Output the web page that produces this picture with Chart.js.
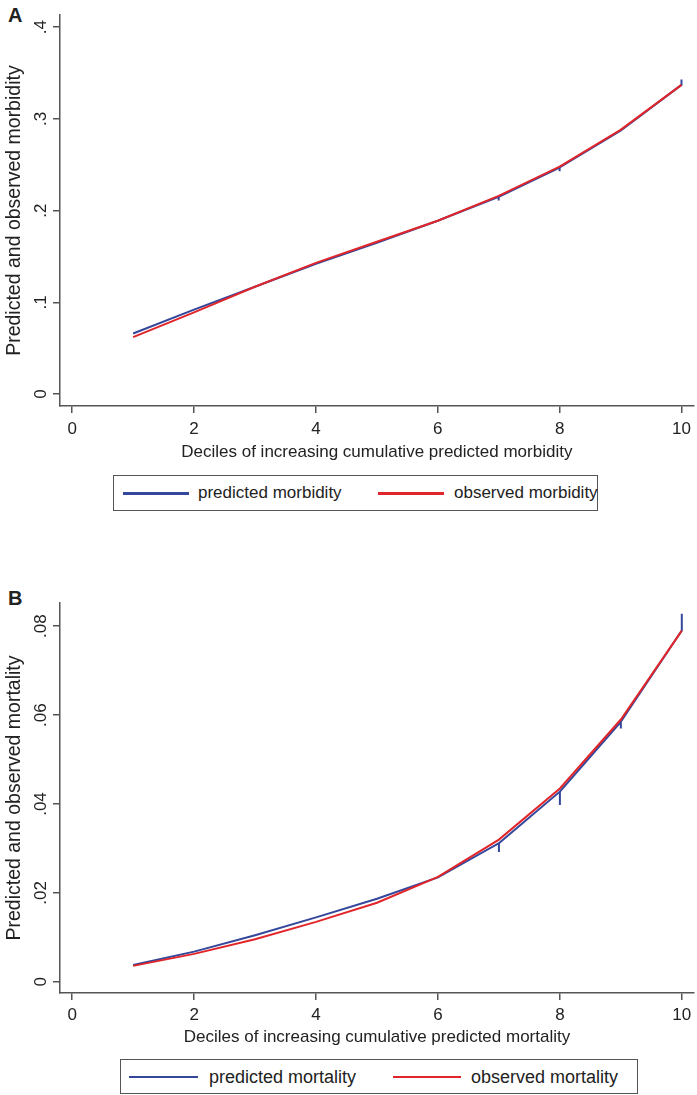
<!DOCTYPE html>
<html>
<head>
<meta charset="utf-8">
<script src="https://cdn.jsdelivr.net/npm/chart.js@4/dist/chart.umd.min.js"></script>
<style>
  body { margin: 0; background: #fff; }
  #page { position: relative; width: 697px; height: 1095px; background: #fff; font-family: "Liberation Sans", Arial, sans-serif; color: #222; }
  canvas { position: absolute; left: 0; }
  .panel { position: absolute; left: 8px; font-weight: bold; font-size: 20px; }
  .legend { position: absolute; border: 1.5px solid #555; box-sizing: border-box; background: #fff; }
  .legend .ln { position: absolute; height: 2.5px; top: 50%; margin-top: -1px; }
  .legend .tx { position: absolute; top: 50%; transform: translateY(-50%); white-space: nowrap; }
</style>
</head>
<body>
<div id="page">
  <div class="panel" style="top:4px">A</div>
  <canvas id="morbChart" width="697" height="470" style="top:0"></canvas>
  <div class="legend" style="left:113px; top:475px; width:485px; height:36px; font-size:17px">
    <div class="ln" style="left:9px; width:66px; background:#34479a"></div>
    <div class="tx" style="left:84px">predicted morbidity</div>
    <div class="ln" style="left:264px; width:66px; background:#e0262b"></div>
    <div class="tx" style="left:340px">observed morbidity</div>
  </div>

  <div class="panel" style="top:587px">B</div>
  <canvas id="mortChart" width="697" height="475" style="top:585px"></canvas>
  <div class="legend" style="left:120px; top:1059px; width:518px; height:35px; font-size:18px">
    <div class="ln" style="left:8px; width:69px; background:#34479a"></div>
    <div class="tx" style="left:88px">predicted mortality</div>
    <div class="ln" style="left:272px; width:68px; background:#e0262b"></div>
    <div class="tx" style="left:350px">observed mortality</div>
  </div>
</div>

<script>
// deciles on the x axis
const xTicks = [0, 2, 4, 6, 8, 10];
const deciles = [1, 2, 3, 4, 5, 6, 7, 8, 9, 10];

// morbidity (panel A); the predicted line dips briefly at a few deciles
const morbPredX = [1, 2, 3, 4, 5, 6, 7, 7, 7, 8, 8, 8, 9, 10, 10];
const morbPred = [0.066, 0.092, 0.117, 0.142, 0.165, 0.189, 0.215, 0.211, 0.215, 0.247, 0.243, 0.247, 0.287, 0.337, 0.343];
const morbObs = [0.062, 0.089, 0.117, 0.143, 0.166, 0.189, 0.216, 0.248, 0.288, 0.337];
const morbTicks = [0, 0.1, 0.2, 0.3, 0.4];

// mortality (panel B)
const mortPredX = [1, 2, 3, 4, 5, 6, 7, 7, 7, 8, 8, 8, 9, 9, 9, 10, 10];
const mortPred = [0.0038, 0.0068, 0.0105, 0.0145, 0.0187, 0.0235, 0.0312, 0.0292, 0.0312, 0.0428, 0.0398, 0.0428, 0.0585, 0.0570, 0.0585, 0.0790, 0.0828];
const mortObs = [0.0036, 0.0063, 0.0096, 0.0135, 0.0178, 0.0236, 0.0320, 0.0435, 0.0590, 0.0790];
const mortTicks = [0, 0.02, 0.04, 0.06, 0.08];

const BLUE = '#34479a';
const RED = '#e0262b';
const AXIS = '#555';
const FONT = "'Liberation Sans', Arial, sans-serif";

// Stata style labels: ".1" instead of "0.1"
function stataLabel(v) {
    if (v === 0) return '0';
    return String(v).replace(/^0/, '');
}

function toPoints(xs, ys) {
    return ys.map((y, i) => ({ x: xs[i], y: y }));
}

function makeChart(id, opts) {
    const ctx = document.getElementById(id).getContext('2d');
    return new Chart(ctx, {
        type: 'line',
        data: {
            datasets: [
                // observed first so it is drawn on top
                {
                    label: opts.obsLabel,
                    data: toPoints(deciles, opts.obs),
                    borderColor: RED,
                    borderWidth: 2,
                    pointRadius: 0,
                    tension: 0
                },
                {
                    label: opts.predLabel,
                    data: toPoints(opts.predX, opts.pred),
                    borderColor: BLUE,
                    borderWidth: 2,
                    pointRadius: 0,
                    tension: 0
                }
            ]
        },
        options: {
            responsive: false,
            animation: false,
            layout: { padding: { top: opts.padTop, right: 3, left: 0, bottom: 0 } },
            plugins: { legend: { display: false }, tooltip: { enabled: false } },
            scales: {
                x: {
                    type: 'linear',
                    min: -0.2,
                    max: 10.2,
                    afterBuildTicks: s => { s.ticks = xTicks.map(v => ({ value: v })); },
                    afterFit: s => { s.height = opts.xHeight; },
                    border: { display: true, color: AXIS, width: 1.5 },
                    grid: { drawOnChartArea: false, drawTicks: true, tickLength: 7, color: AXIS, lineWidth: 1.5 },
                    ticks: { color: '#222', font: { family: FONT, size: 17 }, padding: opts.xTickPad, maxRotation: 0 },
                    title: {
                        display: true,
                        text: opts.xTitle,
                        color: '#222',
                        font: { family: FONT, size: 17 },
                        padding: { top: 0, bottom: opts.xTitlePad }
                    }
                },
                y: {
                    type: 'linear',
                    min: opts.yMin,
                    max: opts.yMax,
                    afterBuildTicks: s => { s.ticks = opts.yTicks.map(v => ({ value: v })); },
                    afterFit: s => { s.width = 60; },
                    border: { display: true, color: AXIS, width: 1.5 },
                    grid: { drawOnChartArea: false, drawTicks: true, tickLength: 7, color: AXIS, lineWidth: 1.5 },
                    ticks: {
                        color: '#222',
                        font: { family: FONT, size: 17 },
                        minRotation: 90,
                        maxRotation: 90,
                        crossAlign: 'center',
                        padding: opts.yTickPad,
                        callback: v => stataLabel(v)
                    },
                    title: {
                        display: true,
                        text: opts.yTitle,
                        color: '#222',
                        font: { family: FONT, size: 19.5 },
                        padding: { top: 3, bottom: 0 }
                    }
                }
            }
        }
    });
}

makeChart('morbChart', {
    obs: morbObs, pred: morbPred, predX: morbPredX,
    obsLabel: 'observed morbidity', predLabel: 'predicted morbidity',
    yTicks: morbTicks, yMin: -0.013, yMax: 0.413,
    yTitle: 'Predicted and observed morbidity',
    xTitle: 'Deciles of increasing cumulative predicted morbidity',
    padTop: 14, xHeight: 64, xTitlePad: 7, xTickPad: 6, yTickPad: 5
});

makeChart('mortChart', {
    obs: mortObs, pred: mortPred, predX: mortPredX,
    obsLabel: 'observed mortality', predLabel: 'predicted mortality',
    yTicks: mortTicks, yMin: -0.0025, yMax: 0.0852,
    yTitle: 'Predicted and observed mortality',
    xTitle: 'Deciles of increasing cumulative predicted mortality',
    padTop: 18, xHeight: 67, xTitlePad: 12, xTickPad: 5, yTickPad: 0
});
</script>
</body>
</html>
